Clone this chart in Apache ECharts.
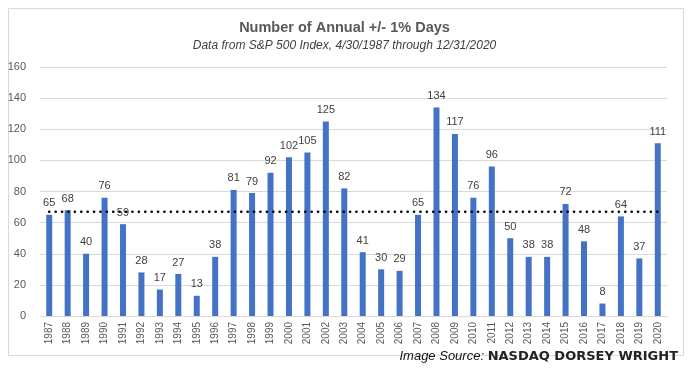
<!DOCTYPE html>
<html><head><meta charset="utf-8">
<script src="https://cdn.jsdelivr.net/npm/echarts@6/dist/echarts.min.js"></script>
<style>html,body{margin:0;padding:0;background:#fff}#c{width:689px;height:371px}</style>
</head><body><div id="c"></div>
<script>
const years = ['1987','1988','1989','1990','1991','1992','1993','1994','1995','1996','1997','1998','1999','2000','2001','2002','2003','2004','2005','2006','2007','2008','2009','2010','2011','2012','2013','2014','2015','2016','2017','2018','2019','2020'];
const days = [65,68,40,76,59,28,17,27,13,38,81,79,92,102,105,125,82,41,30,29,65,134,117,76,96,50,38,38,72,48,8,64,37,111];
const averageLevel = 67;
const yTicks = [0,20,40,60,80,100,120,140,160];

const chart = echarts.init(document.getElementById('c'));
chart.setOption({
  animation: false,
  title: {
    text: 'Number of Annual +/- 1% Days',
    subtext: 'Data from S&P 500 Index, 4/30/1987 through 12/31/2020',
    left: 'center', top: 15, itemGap: 5,
    textStyle: {fontFamily: 'Liberation Sans', fontSize: 14.5, fontWeight: 'bold', color: '#595959'},
    subtextStyle: {fontFamily: 'Liberation Sans', fontSize: 12, fontStyle: 'italic', color: '#404040'}
  },
  grid: {left: 40, right: 22, top: 67, bottom: 55},
  xAxis: {
    type: 'category', data: years,
    axisLine: {lineStyle: {color: '#d9d9d9'}},
    axisTick: {show: false},
    axisLabel: {rotate: 90, fontFamily: 'Liberation Sans', fontSize: 10, color: '#595959', margin: 6}
  },
  yAxis: {
    type: 'value', min: yTicks[0], max: yTicks[yTicks.length-1], interval: 20,
    axisLine: {show: false}, axisTick: {show: false},
    splitLine: {lineStyle: {color: '#d9d9d9'}},
    axisLabel: {fontFamily: 'Liberation Sans', fontSize: 11, color: '#595959', margin: 14}
  },
  series: [
    {
      type: 'bar', data: days, barWidth: 6,
      itemStyle: {color: '#4472c4'},
      label: {show: true, position: 'top', distance: 6, fontFamily: 'Liberation Sans', fontSize: 11, color: '#404040'}
    },
    {
      type: 'line', data: years.map(() => averageLevel), symbol: 'none', silent: true,
      lineStyle: {color: '#000', width: 2.6, type: [0.1, 6.3], cap: 'round'}, z: 5
    }
  ],
  graphic: [
    {type: 'rect', left: 6, top: 6, shape: {width: 675, height: 347}, style: {fill: 'none', stroke: '#d9d9d9', lineWidth: 1}, silent: true},
    {type: 'text', right: 11, top: 350, style: {
      rich: {
        a: {fontFamily: 'Liberation Sans', fontStyle: 'italic', fontSize: 13, fill: '#111'},
        b: {fontFamily: 'DejaVu Sans', fontWeight: 'bold', fontSize: 13, fill: '#222'}
      },
      text: '{a|Image Source: }{b|NASDAQ DORSEY WRIGHT}',
      shadowColor: 'rgba(0,0,0,0.5)', shadowBlur: 3, shadowOffsetY: 2
    }}
  ]
});
</script></body></html>
